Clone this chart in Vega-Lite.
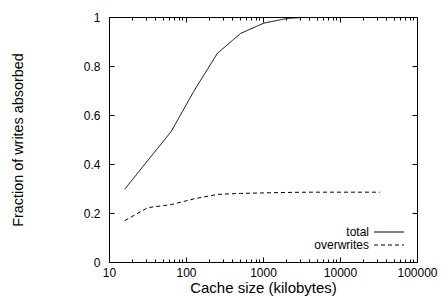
{
  "$schema": "https://vega.github.io/schema/vega-lite/v6.json",
  "width": 308,
  "height": 245,
  "autosize": "none",
  "padding": {"left": 109, "top": 17, "right": 24, "bottom": 35},
  "background": "white",
  "config": {
    "font": "Liberation Sans",
    "view": {"stroke": "black", "strokeWidth": 1},
    "axis": {"labelFont": "Liberation Sans", "titleFont": "Liberation Sans", "labelColor": "black", "titleColor": "black", "tickColor": "black", "domain": false, "grid": false, "labelFontSize": 12, "titleFontSize": 14.5, "titleFontWeight": "normal"},
    "legend": {"labelFont": "Liberation Sans", "labelFontSize": 12, "labelColor": "black"}
  },
  "data": {
    "values": [
      {"size": 16, "series": "total", "fraction": 0.297},
      {"size": 32, "series": "total", "fraction": 0.415},
      {"size": 64, "series": "total", "fraction": 0.532},
      {"size": 128, "series": "total", "fraction": 0.700},
      {"size": 256, "series": "total", "fraction": 0.852},
      {"size": 512, "series": "total", "fraction": 0.933},
      {"size": 1024, "series": "total", "fraction": 0.975},
      {"size": 2048, "series": "total", "fraction": 0.994},
      {"size": 4096, "series": "total", "fraction": 1.0},
      {"size": 8192, "series": "total", "fraction": 1.0},
      {"size": 16384, "series": "total", "fraction": 1.0},
      {"size": 32768, "series": "total", "fraction": 1.0},
      {"size": 16, "series": "overwrites", "fraction": 0.169},
      {"size": 32, "series": "overwrites", "fraction": 0.222},
      {"size": 64, "series": "overwrites", "fraction": 0.234},
      {"size": 128, "series": "overwrites", "fraction": 0.258},
      {"size": 256, "series": "overwrites", "fraction": 0.276},
      {"size": 512, "series": "overwrites", "fraction": 0.280},
      {"size": 1024, "series": "overwrites", "fraction": 0.282},
      {"size": 2048, "series": "overwrites", "fraction": 0.284},
      {"size": 4096, "series": "overwrites", "fraction": 0.285},
      {"size": 8192, "series": "overwrites", "fraction": 0.285},
      {"size": 16384, "series": "overwrites", "fraction": 0.285},
      {"size": 32768, "series": "overwrites", "fraction": 0.285}
    ]
  },
  "resolve": {"axis": {"x": "independent", "y": "independent"}},
  "layer": [
    {
      "mark": {"type": "line", "stroke": "black", "strokeWidth": 1, "clip": true},
      "encoding": {
        "x": {"field": "size", "type": "quantitative", "scale": {"type": "log", "domain": [10, 100000], "nice": false},
              "axis": {"orient": "bottom", "values": [10, 100, 1000, 10000, 100000], "format": "d", "ticks": false, "labelPadding": 5, "title": "Cache size (kilobytes)", "titleFontSize": 15, "titlePadding": 2, "labelFlush": false, "labelOverlap": false}},
        "y": {"field": "fraction", "type": "quantitative", "scale": {"domain": [0, 1], "nice": false},
              "axis": {"orient": "left", "values": [0, 0.2, 0.4, 0.6, 0.8, 1], "labelExpr": "toString(round(datum.value*10)/10)", "ticks": false, "labelPadding": 9, "title": "Fraction of writes absorbed", "titleFontSize": 14.4, "titlePadding": 58, "labelFlush": false, "labelOverlap": false}},
        "strokeDash": {"field": "series", "type": "nominal", "scale": {"domain": ["total", "overwrites"], "range": [[1, 0], [4, 3]]},
              "legend": {"title": null, "orient": "bottom-right", "offset": 11, "symbolType": "M-3,0H3", "symbolSize": 100, "symbolStrokeColor": "black", "symbolStrokeWidth": 1, "labelAlign": "right", "labelOffset": -26, "rowPadding": 1, "padding": 0}}
      }
    },
    {
      "mark": {"type": "line", "strokeOpacity": 0},
      "encoding": {
        "x": {"field": "size", "type": "quantitative", "axis": {"orient": "bottom", "values": [10, 100, 1000, 10000, 100000], "labels": false, "tickSize": -5, "title": null}},
        "y": {"field": "fraction", "type": "quantitative", "axis": {"orient": "left", "values": [0, 0.2, 0.4, 0.6, 0.8, 1], "labels": false, "tickSize": -5, "title": null}}
      }
    },
    {
      "mark": {"type": "line", "strokeOpacity": 0},
      "encoding": {
        "x": {"field": "size", "type": "quantitative", "axis": {"orient": "bottom", "values": [20, 30, 40, 50, 60, 70, 80, 90, 200, 300, 400, 500, 600, 700, 800, 900, 2000, 3000, 4000, 5000, 6000, 7000, 8000, 9000, 20000, 30000, 40000, 50000, 60000, 70000, 80000, 90000], "labels": false, "tickSize": -3, "title": null}},
        "y": {"field": "fraction", "type": "quantitative", "axis": {"orient": "right", "values": [0, 0.2, 0.4, 0.6, 0.8, 1], "labels": false, "tickSize": -5, "title": null}}
      }
    },
    {
      "mark": {"type": "line", "strokeOpacity": 0},
      "encoding": {
        "x": {"field": "size", "type": "quantitative", "axis": {"orient": "top", "values": [10, 100, 1000, 10000, 100000], "labels": false, "tickSize": -5, "title": null}},
        "y": {"field": "fraction", "type": "quantitative", "axis": null}
      }
    },
    {
      "mark": {"type": "line", "strokeOpacity": 0},
      "encoding": {
        "x": {"field": "size", "type": "quantitative", "axis": {"orient": "top", "values": [20, 30, 40, 50, 60, 70, 80, 90, 200, 300, 400, 500, 600, 700, 800, 900, 2000, 3000, 4000, 5000, 6000, 7000, 8000, 9000, 20000, 30000, 40000, 50000, 60000, 70000, 80000, 90000], "labels": false, "tickSize": -3, "title": null}},
        "y": {"field": "fraction", "type": "quantitative", "axis": null}
      }
    }
  ]
}
